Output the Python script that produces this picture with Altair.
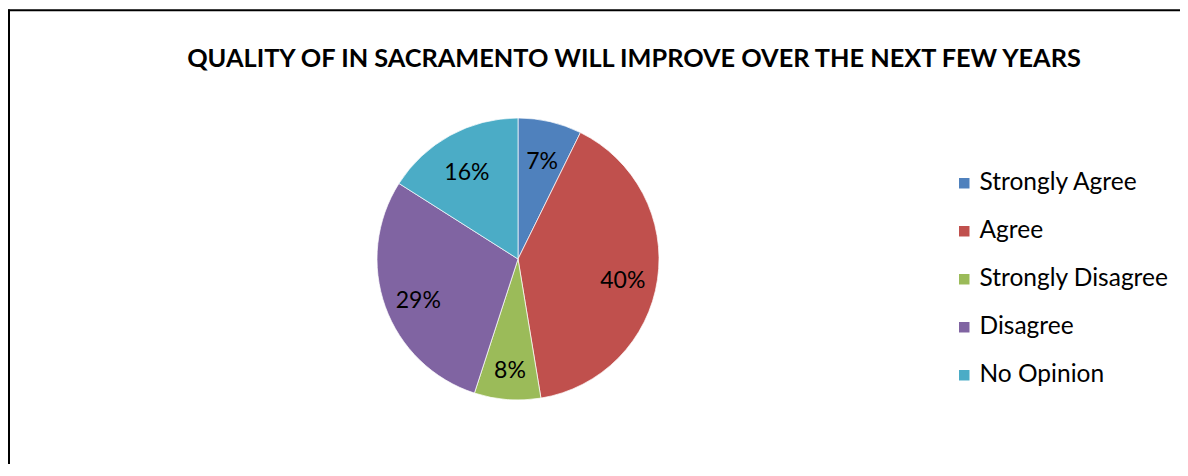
import altair as alt
import pandas as pd

TITLE = "QUALITY OF IN SACRAMENTO WILL IMPROVE OVER THE NEXT FEW YEARS"
CATEGORIES = ["Strongly Agree", "Agree", "Strongly Disagree", "Disagree", "No Opinion"]
VALUES = [7.3, 40.1, 7.6, 29.0, 16.0]
LABELS = ["7%", "40%", "8%", "29%", "16%"]
COLORS = ["#4F81BD", "#C0504D", "#9BBB59", "#8064A2", "#4BACC6"]

df = pd.DataFrame({
    "category": CATEGORIES,
    "value": VALUES,
    "label": LABELS,
    "order": list(range(len(CATEGORIES))),
})

W, H = 1172, 456
CX, CY = 510, 251
R = 141
FONT = "Lato"

base = alt.Chart(df).encode(
    theta=alt.Theta("value:Q", stack=True),
    order=alt.Order("order:Q"),
    x=alt.value(CX),
    y=alt.value(CY),
)

pie = base.mark_arc(outerRadius=R, stroke="white", strokeWidth=0.7).encode(
    color=alt.Color(
        "category:N",
        scale=alt.Scale(domain=CATEGORIES, range=COLORS),
        sort=CATEGORIES,
        legend=alt.Legend(
            title=None,
            orient="none",
            legendX=944,
            legendY=163,
            symbolType="square",
            symbolSize=110,
            symbolStrokeWidth=0,
            labelFont=FONT,
            labelFontSize=24.5,
            labelColor="black",
            labelLimit=400,
            rowPadding=23,
            labelOffset=3,
        ),
    )
)

labels = base.mark_text(radius=106, dy=6.5, font=FONT, fontSize=23, color="black").encode(
    text="label:N"
)

title = alt.Chart(pd.DataFrame({"t": [TITLE]})).mark_text(
    font=FONT, fontWeight="bold", fontSize=25.3, color="black",
    baseline="alphabetic", align="center"
).encode(text="t:N", x=alt.value(626), y=alt.value(59))

frame_df = pd.DataFrame({"a": [0]})
frame_top = alt.Chart(frame_df).mark_rule(color="black", strokeWidth=2).encode(
    x=alt.value(0), x2=alt.value(W), y=alt.value(2.3)
)
frame_left = alt.Chart(frame_df).mark_rule(color="black", strokeWidth=2).encode(
    x=alt.value(1), y=alt.value(1.5), y2=alt.value(H)
)

chart = alt.layer(frame_top, frame_left, pie, labels, title).properties(
    width=W,
    height=H,
    autosize=alt.AutoSizeParams(type="none"),
    padding=0,
).configure_view(stroke=None)

chart.save("out.html", embed_options={"renderer": "svg", "actions": False})
